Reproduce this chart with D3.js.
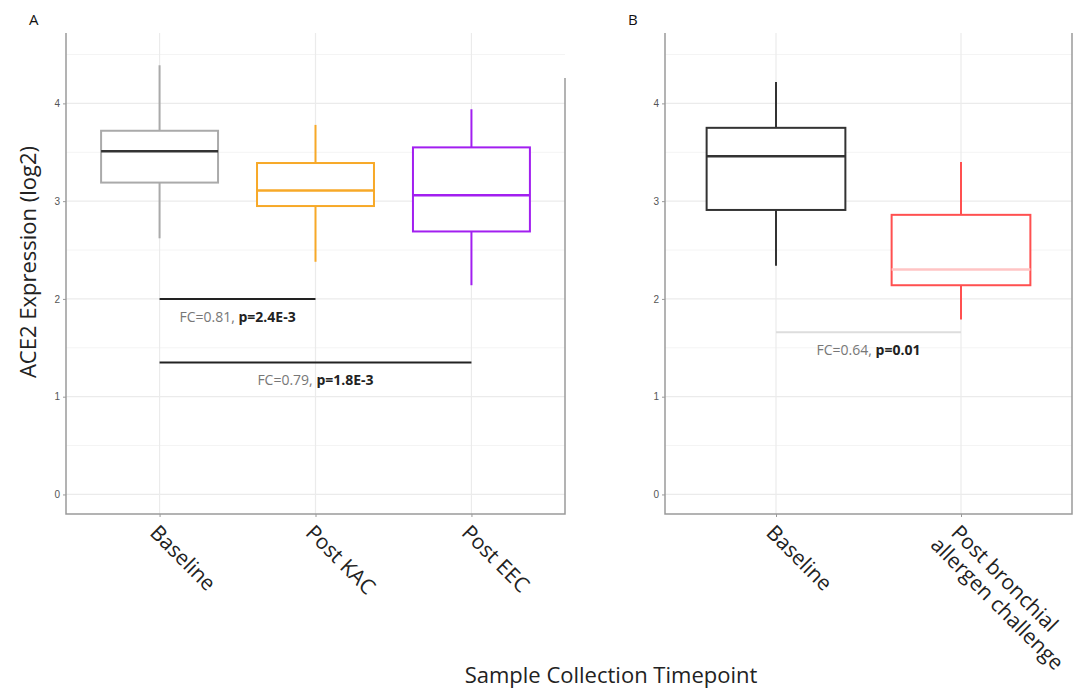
<!DOCTYPE html>
<html>
<head>
<meta charset="utf-8">
<script src="https://cdn.jsdelivr.net/npm/d3@7"></script>
<style>
  body { margin: 0; background: #fff; }
  svg { font-family: "Open Sans", "DejaVu Sans", sans-serif; }
</style>
</head>
<body>
<svg id="chart" width="1074" height="695"></svg>
<script>

// panel A : nasal samples after KAC / EEC
const groupsA = ['Baseline', 'Post KAC', 'Post EEC'];
const lowA    = [2.62, 2.38, 2.14];
const q1A     = [3.19, 2.95, 2.69];
const medA    = [3.51, 3.11, 3.06];
const q3A     = [3.72, 3.39, 3.55];
const highA   = [4.39, 3.78, 3.94];
const colorsA = ['#aaaaaa', '#f7a928', '#a21ff0'];
const medColorsA = ['#333333', '#f7a928', '#a21ff0'];

// panel B : bronchial allergen challenge
const groupsB = ['Baseline', 'Post bronchial\nallergen challenge'];
const lowB    = [2.34, 1.79];
const q1B     = [2.91, 2.14];
const medB    = [3.46, 2.30];
const q3B     = [3.75, 2.86];
const highB   = [4.22, 3.40];
const colorsB = ['#333333', '#ff5050'];
const medColorsB = ['#333333', '#ffc4c4'];

// comparison brackets
const compsA = [
    {from: 0, to: 1, y: 2.00, fc: 'FC=0.81,', p: 'p=2.4E-3'},
    {from: 0, to: 2, y: 1.35, fc: 'FC=0.79,', p: 'p=1.8E-3'}
];
const compsB = [
    {from: 0, to: 1, y: 1.66, fc: 'FC=0.64,', p: 'p=0.01'}
];

const yTicks = [0, 1, 2, 3, 4];
const yMinor = [0.5, 1.5, 2.5, 3.5, 4.5];
const yDomain = [-0.2, 4.72];

const svg = d3.select('#chart');

function panel (opts) {

    const g = svg.append('g');
    const n = opts.groups.length;

    const x = d3.scaleLinear()
        .domain([0.4, n + 0.6])
        .range([opts.left, opts.right]);

    const y = d3.scaleLinear()
        .domain(yDomain)
        .range([opts.bottom, opts.top]);

    // grid
    g.selectAll('.minor')
        .data(yMinor)
        .enter().append('line')
        .attr('x1', opts.left).attr('x2', opts.right)
        .attr('y1', d => y(d)).attr('y2', d => y(d))
        .style('stroke', '#f4f4f4').style('stroke-width', 1);

    g.selectAll('.major')
        .data(yTicks)
        .enter().append('line')
        .attr('x1', opts.left).attr('x2', opts.right)
        .attr('y1', d => y(d)).attr('y2', d => y(d))
        .style('stroke', '#ebebeb').style('stroke-width', 1.2);

    g.selectAll('.vgrid')
        .data(opts.groups)
        .enter().append('line')
        .attr('x1', (d, i) => x(i + 1)).attr('x2', (d, i) => x(i + 1))
        .attr('y1', opts.top).attr('y2', opts.bottom)
        .style('stroke', '#ebebeb').style('stroke-width', 1.2);

    // axes
    const yAxis = d3.axisLeft(y)
        .tickValues(yTicks)
        .tickFormat(d3.format('d'))
        .tickSize(3)
        .tickPadding(3);
    g.append('g')
        .attr('transform', `translate(${opts.left},0)`)
        .call(yAxis)
        .call(a => a.select('.domain').remove())
        .call(a => a.selectAll('line').style('stroke', '#999'))
        .call(a => a.selectAll('text')
            .style('font-size', '10px')
            .style('fill', '#555'));

    const xAxis = d3.axisBottom(x)
        .tickValues(d3.range(1, n + 1))
        .tickSize(3)
        .tickFormat('');
    g.append('g')
        .attr('transform', `translate(0,${opts.bottom})`)
        .call(xAxis)
        .call(a => a.select('.domain').remove())
        .call(a => a.selectAll('line').style('stroke', '#999'));

    // frame: left, bottom, right
    g.append('path')
        .attr('d', `M${opts.left},${opts.top}V${opts.bottom}H${opts.right}V${opts.top + opts.rightGap}`)
        .style('fill', 'none')
        .style('stroke', '#9a9a9a')
        .style('stroke-width', 1.5);

    // rotated category labels
    opts.groups.forEach(function (name, i) {
        const t = g.append('text')
            .attr('transform', `translate(${x(i + 1) + 1},${opts.bottom + 8}) rotate(45)`)
            .style('font-size', '21px')
            .style('fill', '#222');
        name.split('\n').forEach(function (line, k) {
            t.append('tspan')
                .attr('x', k ? -6 : 0)
                .attr('dy', k ? '1.1em' : '0.8em')
                .text(line);
        });
    });

    // boxes
    const bw = 0.75;
    opts.groups.forEach(function (name, i) {
        const cx = x(i + 1);
        const x0 = x(i + 1 - bw / 2);
        const x1 = x(i + 1 + bw / 2);
        const col = opts.colors[i];

        g.append('line')
            .attr('x1', cx).attr('x2', cx)
            .attr('y1', y(opts.high[i])).attr('y2', y(opts.q3[i]))
            .style('stroke', col).style('stroke-width', 2);
        g.append('line')
            .attr('x1', cx).attr('x2', cx)
            .attr('y1', y(opts.q1[i])).attr('y2', y(opts.low[i]))
            .style('stroke', col).style('stroke-width', 2);
        g.append('rect')
            .attr('x', x0).attr('width', x1 - x0)
            .attr('y', y(opts.q3[i])).attr('height', y(opts.q1[i]) - y(opts.q3[i]))
            .style('fill', '#fff')
            .style('stroke', col).style('stroke-width', 2);
        g.append('line')
            .attr('x1', x0).attr('x2', x1)
            .attr('y1', y(opts.med[i])).attr('y2', y(opts.med[i]))
            .style('stroke', opts.medColors[i]).style('stroke-width', 2.5);
    });

    // comparison brackets
    opts.comps.forEach(function (c) {
        const xa = x(c.from + 1), xb = x(c.to + 1);
        g.append('line')
            .attr('x1', xa).attr('x2', xb)
            .attr('y1', y(c.y)).attr('y2', y(c.y))
            .style('stroke', opts.bracket).style('stroke-width', 2);
        const t = g.append('text')
            .attr('x', (xa + xb) / 2)
            .attr('y', y(c.y) + 23)
            .attr('text-anchor', 'middle')
            .style('font-size', '14px');
        t.append('tspan').style('fill', '#777').text(c.fc + ' ');
        t.append('tspan').style('fill', '#222').style('font-weight', 'bold').text(c.p);
    });

    g.append('text')
        .attr('x', opts.letterX)
        .attr('y', 25)
        .style('font-size', '15px')
        .style('fill', '#111')
        .text(opts.letter);

}

panel({
    groups: groupsA, low: lowA, q1: q1A, med: medA, q3: q3A, high: highA,
    colors: colorsA, medColors: medColorsA, comps: compsA, bracket: '#222',
    left: 66, right: 565, top: 33, bottom: 514, rightGap: 45,
    letter: 'A', letterX: 29
});

panel({
    groups: groupsB, low: lowB, q1: q1B, med: medB, q3: q3B, high: highB,
    colors: colorsB, medColors: medColorsB, comps: compsB, bracket: '#dddddd',
    left: 665, right: 1072, top: 33, bottom: 514, rightGap: 0,
    letter: 'B', letterX: 628
});

svg.append('text')
    .attr('transform', 'translate(36,262) rotate(-90)')
    .attr('text-anchor', 'middle')
    .style('font-size', '22px')
    .style('fill', '#222')
    .text('ACE2 Expression (log2)');

svg.append('text')
    .attr('x', 611)
    .attr('y', 683)
    .attr('text-anchor', 'middle')
    .style('font-size', '22px')
    .style('fill', '#222')
    .text('Sample Collection Timepoint');

</script>
</body>
</html>
